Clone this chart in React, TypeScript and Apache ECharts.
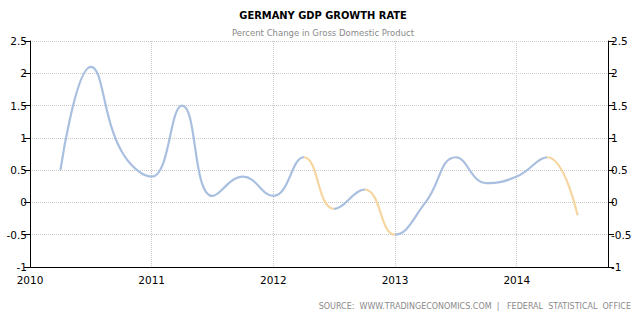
import React, { useEffect, useRef } from "react";
import * as echarts from "echarts";

const quarters = [
  "2010Q1", "2010Q2", "2010Q3", "2010Q4",
  "2011Q1", "2011Q2", "2011Q3", "2011Q4",
  "2012Q1", "2012Q2", "2012Q3", "2012Q4",
  "2013Q1", "2013Q2", "2013Q3", "2013Q4",
  "2014Q1", "2014Q2",
];
const growth = [
  0.5, 2.1, 0.8, 0.4,
  1.5, 0.1, 0.4, 0.1,
  0.7, -0.1, 0.2, -0.5,
  0.0, 0.7, 0.3, 0.4,
  0.7, -0.2,
];
const yearTicks = [2010, 2011, 2012, 2013, 2014];
const yTicks = [-1, -0.5, 0, 0.5, 1, 1.5, 2, 2.5];

const BLUE = "#a9bfe0";
const ORANGE = "#f6d6a0";
const FONT = "DejaVu Sans";
const COND = "DejaVu Sans Condensed";

function quarterToYear(q: string): number {
  const y = parseInt(q.slice(0, 4), 10);
  const n = parseInt(q.slice(5), 10);
  return y + n * 0.25;
}

export default function App() {
  const ref = useRef<HTMLDivElement>(null);
  useEffect(() => {
    if (!ref.current) return;
    const chart = echarts.init(ref.current, null, { renderer: "svg" });
    const xs = quarters.map(quarterToYear);
    const data = xs.map((x, i) => [x, growth[i]]);
    const pieces: any[] = [];
    for (let i = 1; i < growth.length; i++) {
      if (growth[i] < 0) pieces.push({ gt: xs[i - 1], lte: xs[i], color: ORANGE });
    }
    const axisLabelStyle = { color: "#000", fontFamily: FONT, fontSize: 10.5 };
    const yAxisCommon = {
      type: "value",
      min: yTicks[0],
      max: yTicks[yTicks.length - 1],
      interval: 0.5,
      axisLine: { show: true, lineStyle: { color: "#000", width: 1 } },
      axisTick: { show: true, length: 6, lineStyle: { color: "#000" } },
    };
    chart.setOption({
      animation: false,
      backgroundColor: "#fff",
      title: [
        {
          text: "GERMANY GDP GROWTH RATE",
          left: 318,
          top: 5,
          textAlign: "center",
          textStyle: { fontFamily: COND, fontSize: 11, fontWeight: "bold", color: "#000" },
        },
        {
          text: "Percent Change in Gross Domestic Product",
          left: 318,
          top: 23,
          textAlign: "center",
          textStyle: { fontFamily: FONT, fontSize: 8.5, fontWeight: "normal", color: "#8a8a8a" },
        },
        {
          text: "SOURCE:  WWW.TRADINGECONOMICS.COM  |   FEDERAL  STATISTICAL  OFFICE",
          right: 5,
          top: 297,
          textStyle: { fontFamily: FONT, fontSize: 8, fontWeight: "normal", color: "#8a8a8a" },
        },
      ],
      grid: { left: 30, right: 33, top: 41, bottom: 57 },
      visualMap: {
        show: false,
        type: "piecewise",
        dimension: 0,
        seriesIndex: 0,
        pieces,
        outOfRange: { color: BLUE },
      },
      xAxis: {
        type: "value",
        min: yearTicks[0],
        max: 2014.75,
        interval: 1,
        axisLine: { show: true, onZero: false, lineStyle: { color: "#000", width: 1 } },
        axisTick: { show: false },
        axisLabel: {
          ...axisLabelStyle,
          margin: 7,
          formatter: (v: number) => (yearTicks.includes(v) ? String(v) : ""),
        },
        splitLine: { show: true, lineStyle: { color: "#c8c8c8", type: "dotted", width: 1 } },
      },
      yAxis: [
        {
          ...yAxisCommon,
          position: "left",
          axisLabel: { ...axisLabelStyle, margin: 3 },
          splitLine: { show: true, lineStyle: { color: "#c8c8c8", type: "dotted", width: 1 } },
        },
        {
          ...yAxisCommon,
          position: "right",
          axisLabel: { ...axisLabelStyle, margin: 3 },
          splitLine: { show: false },
        },
      ],
      series: [
        {
          type: "line",
          data,
          smooth: 0.45,
          showSymbol: false,
          lineStyle: { width: 2.2 },
        },
      ],
    });
    return () => chart.dispose();
  }, []);
  return <div ref={ref} style={{ width: 641, height: 324, position: "absolute", left: 0, top: 0 }} />;
}
